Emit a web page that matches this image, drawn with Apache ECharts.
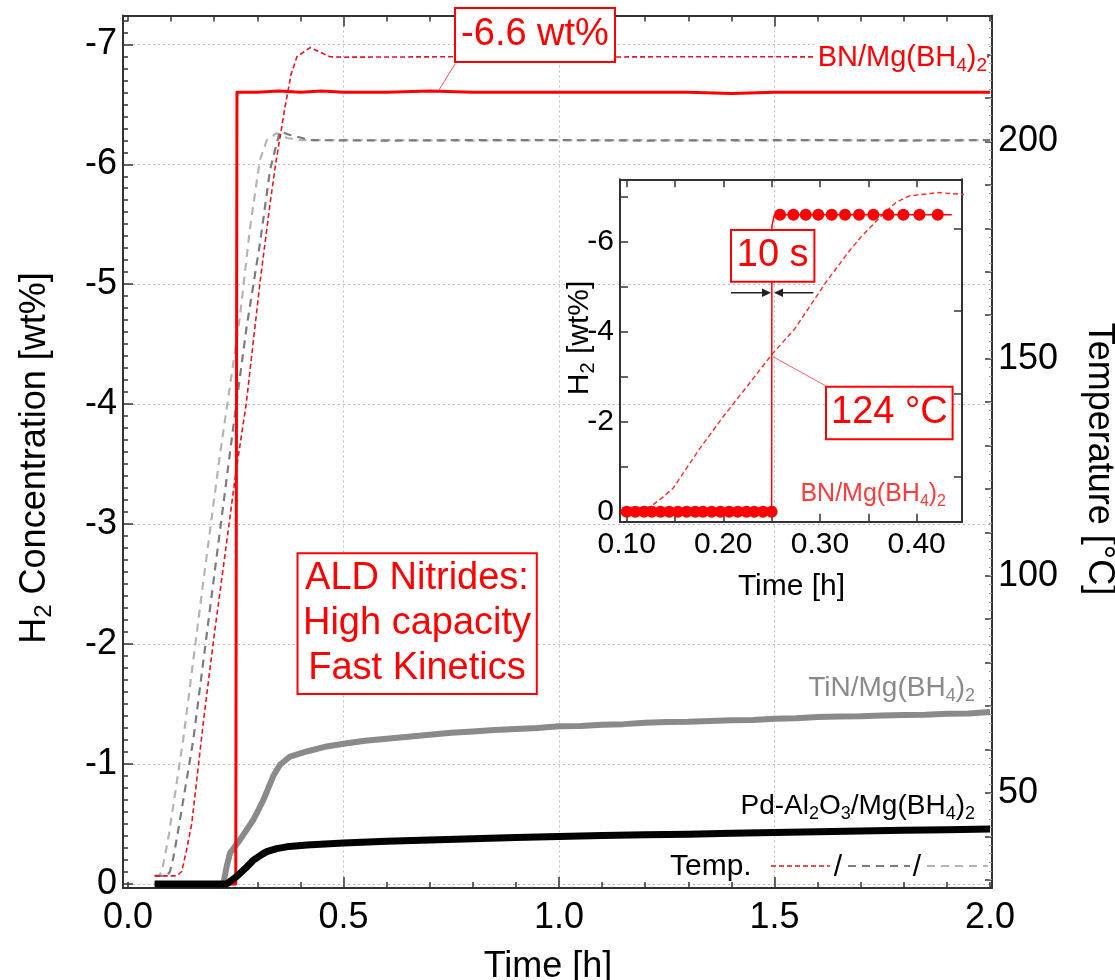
<!DOCTYPE html>
<html>
<head>
<meta charset="utf-8">
<script src="https://cdn.jsdelivr.net/npm/echarts@6.0.0/dist/echarts.min.js"></script>
<style>html,body{margin:0;padding:0;background:#fff}#c{width:1115px;height:980px}</style>
</head>
<body>
<div id="c"></div>
<script>
// ---------------- data ----------------
const xTickLabels = [0.0, 0.5, 1.0, 1.5, 2.0];
const yTickLabels = [-7, -6, -5, -4, -3, -2, -1, 0];
const tempTickLabels = [50, 100, 150, 200];
const insetXTickLabels = [0.10, 0.20, 0.30, 0.40];
const insetYTickLabels = [-6, -4, -2, 0];

// BN/Mg(BH4)2 hydrogen release (main)
const bnTime = [0.062, 0.10, 0.15, 0.20, 0.2500, 0.2528, 0.30, 0.35, 0.40, 0.45, 0.50, 0.60, 0.70, 0.80, 0.90, 1.00, 1.10, 1.20, 1.30, 1.40, 1.50, 1.60, 1.70, 1.80, 1.90, 2.00];
const bnH2   = [0, 0, 0, 0, 0, -6.60, -6.60, -6.61, -6.60, -6.61, -6.60, -6.60, -6.61, -6.60, -6.60, -6.60, -6.60, -6.60, -6.60, -6.59, -6.60, -6.60, -6.60, -6.60, -6.60, -6.60];

// TiN/Mg(BH4)2
const tinTime = [0.062, 0.10, 0.15, 0.20, 0.221, 0.229, 0.2367, 0.26, 0.291, 0.314, 0.337, 0.3527, 0.3759, 0.4146, 0.461, 0.50, 0.55, 0.60, 0.65, 0.70, 0.75, 0.80, 0.85, 0.90, 0.95, 1.00, 1.05, 1.10, 1.15, 1.20, 1.25, 1.30, 1.35, 1.40, 1.45, 1.50, 1.55, 1.60, 1.65, 1.70, 1.75, 1.80, 1.85, 1.90, 1.95, 2.00];
const tinH2   = [0, 0, 0, 0, 0, -0.147, -0.258, -0.37, -0.536, -0.70, -0.90, -0.994, -1.063, -1.105, -1.147, -1.170, -1.195, -1.212, -1.228, -1.245, -1.262, -1.272, -1.285, -1.293, -1.300, -1.315, -1.318, -1.328, -1.333, -1.345, -1.350, -1.352, -1.360, -1.366, -1.367, -1.378, -1.383, -1.392, -1.396, -1.398, -1.405, -1.410, -1.412, -1.420, -1.422, -1.435];

// Pd-Al2O3/Mg(BH4)2
const pdTime = [0.062, 0.10, 0.15, 0.20, 0.229, 0.252, 0.275, 0.291, 0.31, 0.322, 0.345, 0.368, 0.415, 0.50, 0.60, 0.70, 0.80, 0.90, 1.00, 1.10, 1.20, 1.30, 1.40, 1.50, 1.60, 1.70, 1.80, 1.90, 2.00];
const pdH2   = [0, 0, 0, 0, 0, -0.063, -0.14, -0.20, -0.245, -0.27, -0.295, -0.31, -0.325, -0.342, -0.356, -0.368, -0.378, -0.388, -0.397, -0.404, -0.41, -0.416, -0.423, -0.43, -0.436, -0.442, -0.448, -0.452, -0.458];

// temperatures [°C]
const redTempTime = [0.062, 0.113, 0.1246, 0.136, 0.148, 0.163, 0.1754, 0.2002, 0.2266, 0.2505, 0.2742, 0.306, 0.33, 0.3436, 0.357, 0.3644, 0.3784, 0.392, 0.4223, 0.445, 0.4687, 0.50, 0.75, 1.00, 1.25, 1.50, 1.75, 2.00];
const redTemp     = [30.9, 30.9, 31.9, 36.9, 43.0, 56.0, 66.8, 86.5, 106.0, 124.0, 139.5, 167.3, 186.0, 195.5, 203.5, 208.0, 215.5, 219.5, 221.6, 220.6, 219.5, 219.4, 219.5, 219.4, 219.5, 219.5, 219.4, 219.5];

const darkTempTime = [0.062, 0.09, 0.0975, 0.105, 0.115, 0.1515, 0.20, 0.2443, 0.2754, 0.3063, 0.3295, 0.345, 0.3527, 0.3759, 0.4223, 0.60, 0.80, 1.00, 1.20, 1.40, 1.60, 1.80, 2.00];
const darkTemp     = [30.9, 30.9, 31.9, 35.0, 40.5, 62.2, 100.0, 134.3, 157.4, 176.6, 193.4, 199.6, 202.3, 201.5, 200.3, 200.2, 200.3, 200.3, 200.2, 200.3, 200.3, 200.2, 200.3];

const lightTempTime = [0.062, 0.072, 0.078, 0.085, 0.095, 0.128, 0.17, 0.2135, 0.24, 0.26, 0.283, 0.306, 0.322, 0.345, 0.37, 0.40, 0.60, 0.80, 1.00, 1.20, 1.40, 1.60, 1.80, 2.00];
const lightTemp     = [30.9, 30.9, 31.9, 35.0, 40.5, 62.2, 95.0, 128.0, 146.0, 160.0, 180.0, 195.7, 200.3, 201.9, 200.8, 200.3, 200.3, 200.2, 200.3, 200.3, 200.2, 200.3, 200.3, 200.3];

// inset: BN/Mg(BH4)2 sampled points
const insetTime = [0.100, 0.109, 0.118, 0.126, 0.135, 0.144, 0.153, 0.162, 0.171, 0.179, 0.188, 0.197, 0.206, 0.215, 0.224, 0.232, 0.241, 0.250, 0.2503, 0.2528, 0.2587, 0.2725, 0.2853, 0.2983, 0.3122, 0.3260, 0.3405, 0.3553, 0.3708, 0.3863, 0.4029, 0.4219, 0.4364];
const insetH2   = [0, 0, 0, 0, 0, 0, 0, 0, 0, 0, 0, 0, 0, 0, 0, 0, 0, 0, -6.35, -6.60, -6.60, -6.60, -6.60, -6.60, -6.60, -6.60, -6.60, -6.60, -6.60, -6.60, -6.60, -6.60, -6.60];
const insetMarker = [1, 1, 1, 1, 1, 1, 1, 1, 1, 1, 1, 1, 1, 1, 1, 1, 1, 1, 0, 0, 1, 1, 1, 1, 1, 1, 1, 1, 1, 1, 1, 1, 0];

// ---------------- helpers ----------------
const FONT = "'Liberation Sans', Arial, Helvetica, sans-serif";
const AX = '#333';
const RED = '#ff0000';
function pairs(xs, ys) { return xs.map((x, i) => [x, ys[i]]); }
function steps(a, b, s) { const o = []; const n = Math.round((b - a) / s); for (let i = 0; i <= n; i++) o.push(+(a + i * s).toFixed(4)); return o; }

function tickAxis(base, vals, len, showLine, tickColor, tickWidth) {
  return Object.assign({
    type: 'value',
    axisLine: { show: !!showLine, onZero: false, lineStyle: { color: AX, width: 2 } },
    axisTick: { show: true, inside: true, length: len, customValues: vals, lineStyle: { color: tickColor || AX, width: tickWidth || 1.5 } },
    axisLabel: { show: false },
    splitLine: { show: false }
  }, base);
}

const XR = { min: -0.0116, max: 2.0046 };
const YR = { min: -7.24, max: 0.033, inverse: true };
const TR = { min: 28.1, max: 229.0 };
const IXR = { min: 0.0931, max: 0.447 };
const IYR = { min: -7.39, max: 0.22, inverse: true };
const ITR = { min: 22.8, max: 229.6 };

const xAxis = [
  Object.assign(tickAxis(Object.assign({ gridIndex: 0, position: 'bottom' }, XR), [0.5, 1.0, 1.5], 11, true), {
    axisLabel: { show: true, customValues: xTickLabels, formatter: v => v.toFixed(1), fontSize: 36, color: '#000', fontFamily: FONT, margin: 12 },
    splitLine: { show: true, lineStyle: { color: '#bdbdbd', type: [2, 3], width: 1 } }
  }),
  tickAxis(Object.assign({ gridIndex: 0, position: 'bottom' }, XR), steps(0, 2, 0.1), 6, false),
  tickAxis(Object.assign({ gridIndex: 0, position: 'top' }, XR), steps(0, 2, 0.1), 6, true),
  tickAxis(Object.assign({ gridIndex: 0, position: 'top' }, XR), [0.5, 1.0, 1.5], 11, false),
  Object.assign(tickAxis(Object.assign({ gridIndex: 1, position: 'bottom' }, IXR), steps(0.10, 0.45, 0.05), 8, true), {
    axisLabel: { show: true, customValues: insetXTickLabels, formatter: v => v.toFixed(2), fontSize: 30, color: '#000', fontFamily: FONT, margin: 8 }
  }),
  tickAxis(Object.assign({ gridIndex: 1, position: 'top' }, IXR), steps(0.10, 0.45, 0.05), 8, true)
];

const yAxis = [
  Object.assign(tickAxis(Object.assign({ gridIndex: 0, position: 'left' }, YR), yTickLabels, 10, true), {
    axisLabel: { show: true, customValues: yTickLabels, formatter: v => String(v), fontSize: 36, color: '#000', fontFamily: FONT, margin: 6 },
    splitLine: { show: true, lineStyle: { color: '#bdbdbd', type: [2, 3], width: 1 } }
  }),
  tickAxis(Object.assign({ gridIndex: 0, position: 'left' }, YR), steps(-7.2, 0, 0.1), 5, false),
  Object.assign(tickAxis(Object.assign({ gridIndex: 0, position: 'right' }, TR), steps(30, 220, 10), 7, true), {
    axisLabel: { show: true, customValues: tempTickLabels, formatter: v => String(v), fontSize: 36, color: '#000', fontFamily: FONT, margin: 6 }
  }),
  Object.assign(tickAxis(Object.assign({ gridIndex: 1, position: 'left' }, IYR), steps(-7, 0, 1), 8, true), {
    axisLabel: { show: true, customValues: insetYTickLabels, formatter: v => String(v), fontSize: 30, color: '#000', fontFamily: FONT, margin: 6 }
  }),
  tickAxis(Object.assign({ gridIndex: 1, position: 'right' }, ITR), tempTickLabels, 8, true),
  tickAxis(Object.assign({ gridIndex: 0, position: 'right' }, TR), steps(30, 228, 2), 3, false, '#9a9a9a', 1)
];

function lineSeries(name, xi, yi, data, color, width, dash, z) {
  return {
    name, type: 'line', xAxisIndex: xi, yAxisIndex: yi, data, showSymbol: false, symbol: 'none',
    lineStyle: { color, width, type: dash || 'solid', join: 'round', cap: 'butt' },
    animation: false, silent: true, z: z || 2
  };
}

const series = [
  lineSeries('Temp light', 0, 2, pairs(lightTempTime, lightTemp), '#b4b4b4', 2.2, [8, 6], 2),
  lineSeries('Temp dark', 0, 2, pairs(darkTempTime, darkTemp), '#7c7c7c', 2.2, [8, 6], 2),
  lineSeries('Temp BN', 0, 2, pairs(redTempTime, redTemp), '#e8141c', 1.6, [5, 3], 2),
  lineSeries('TiN/Mg(BH4)2', 0, 0, pairs(tinTime, tinH2), '#8a8a8a', 6, null, 3),
  lineSeries('BN/Mg(BH4)2', 0, 0, pairs(bnTime, bnH2), RED, 3, null, 3),
  lineSeries('Pd-Al2O3/Mg(BH4)2', 0, 0, pairs(pdTime, pdH2), '#000', 7, null, 3),
  {
    name: 'BN inset', type: 'line', xAxisIndex: 4, yAxisIndex: 3,
    data: insetTime.map((t, i) => insetMarker[i] ? [t, insetH2[i]] : { value: [t, insetH2[i]], symbol: 'none' }),
    symbol: 'circle', symbolSize: 12, showSymbol: true, itemStyle: { color: RED },
    lineStyle: { color: RED, width: 1.5 }, animation: false, silent: true, z: 4
  },
  lineSeries('Temp BN inset', 4, 4, pairs(redTempTime, redTemp), '#ff2a2a', 1.4, [5, 3], 3)
];

// ---------------- annotations ----------------
const G = [];
function txt(x, y, text, size, color, align, rot, rich, extra) {
  const st = { text, fill: color, font: size + 'px ' + FONT, fontSize: size, fontFamily: FONT,
    align: align || 'center', verticalAlign: 'middle', textAlign: align || 'center', textVerticalAlign: 'middle' };
  if (rich) st.rich = rich;
  Object.assign(st, extra || {});
  G.push({ type: 'text', x, y, rotation: rot || 0, z: 120, silent: true, style: st });
}
function box(x, y, w, h) {
  G.push({ type: 'rect', z: 110, silent: true, shape: { x, y, width: w, height: h }, style: { fill: '#fff', stroke: RED, lineWidth: 2 } });
}
function seg(x1, y1, x2, y2, color, w, dash) {
  G.push({ type: 'line', z: 115, silent: true, shape: { x1, y1, x2, y2 }, style: { stroke: color, lineWidth: w, lineDash: dash || null } });
}
function subRich(size, subSize, color) {
  return {
    a: { fontSize: size, fontFamily: FONT, fill: color, color, lineHeight: size + 6 },
    s: { fontSize: subSize, fontFamily: FONT, fill: color, color, lineHeight: 12, verticalAlign: 'bottom' }
  };
}

// -6.6 wt% callout
box(455, 8, 160, 54);
txt(535, 35, '-6.6 wt%', 38, RED);
seg(455, 64, 439, 90, '#ff5050', 1);
// main labels
txt(987, 58, '{a|BN/Mg(BH}{s|4}{a|)}{s|2}', 29, RED, 'right', 0, subRich(29, 19, RED), { backgroundColor: '#fff', padding: [0, 0, 0, 3] });
txt(975, 688, '{a|TiN/Mg(BH}{s|4}{a|)}{s|2}', 28, '#8a8a8a', 'right', 0, subRich(28, 18, '#8a8a8a'));
txt(975, 806, '{a|Pd-Al}{s|2}{a|O}{s|3}{a|/Mg(BH}{s|4}{a|)}{s|2}', 28, '#000', 'right', 0, subRich(28, 18, '#000'));
// ALD box
box(297.5, 553.3, 239.3, 140.7);
txt(417, 624, 'ALD Nitrides:\nHigh capacity\nFast Kinetics', 38, RED, 'center', 0, null, { lineHeight: 45 });
// temperature legend
txt(670, 867, 'Temp.', 30, '#000', 'left');
seg(771, 866, 830, 866, '#e8141c', 1.6, [5, 3]);
txt(838, 868, '/', 30, '#000');
seg(848, 866, 910, 866, '#7c7c7c', 2, [8, 6]);
txt(917, 868, '/', 30, '#000');
seg(927, 866, 988, 866, '#b4b4b4', 2, [8, 6]);
// axis titles
txt(35, 458, '{a|H}{s|2}{a| Concentration [wt%]}', 36, '#000', 'center', Math.PI / 2, subRich(36, 24, '#000'));
txt(1099, 459, 'Temperature [°C]', 36, '#000', 'center', -Math.PI / 2);
txt(548, 967, 'Time [h]', 36, '#000');
// inset texts
txt(791.5, 587, 'Time [h]', 30, '#000');
txt(580, 338, '{a|H}{s|2}{a| [wt%]}', 30, '#000', 'center', Math.PI / 2, subRich(30, 20, '#000'));
txt(946, 494, '{a|BN/Mg(BH}{s|4}{a|)}{s|2}', 25, '#ff3b3b', 'right', 0, subRich(25, 16, '#ff3b3b'));
box(731, 230, 83.4, 51.7);
txt(772.7, 256, '10 s', 38, RED);
box(826, 386.7, 126.6, 52.6);
txt(889.3, 413, '124 °C', 38, RED);
seg(773, 356.7, 826, 386, '#ff6060', 1);
// 10 s arrows
seg(731, 292.7, 768, 292.7, '#222', 1.5);
G.push({ type: 'polygon', z: 116, silent: true, shape: { points: [[771, 292.7], [762, 288.5], [762, 296.9]] }, style: { fill: '#222' } });
seg(813.4, 292.7, 777, 292.7, '#222', 1.5);
G.push({ type: 'polygon', z: 116, silent: true, shape: { points: [[774, 292.7], [783, 288.5], [783, 296.9]] }, style: { fill: '#222' } });

const option = {
  animation: false,
  backgroundColor: '#fff',
  grid: [
    { left: 123, top: 15.5, width: 869, height: 872.5, containLabel: false, outerBoundsMode: 'none', show: false },
    { left: 620, top: 179.3, width: 342, height: 342.4, containLabel: false, outerBoundsMode: 'none', show: false }
  ],
  xAxis, yAxis, series,
  graphic: { elements: G }
};

const chart = echarts.init(document.getElementById('c'), null, { renderer: 'canvas' });
chart.setOption(option);
</script>
</body>
</html>
